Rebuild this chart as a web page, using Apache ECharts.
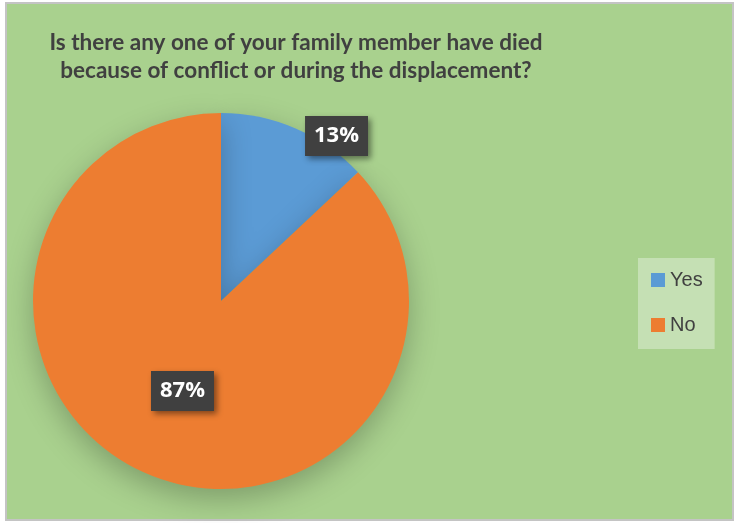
<!DOCTYPE html>
<html>
<head>
<meta charset="utf-8">
<script src="https://cdn.jsdelivr.net/npm/echarts@6/dist/echarts.min.js"></script>
<style>
html,body{margin:0;padding:0;background:#ffffff;}
#bg{position:absolute;left:5px;top:2px;width:725px;height:515px;background:#a9d18e;border:2px solid #c4c4c4;}
#chart{position:absolute;left:0;top:0;width:735px;height:523px;}
</style>
</head>
<body>
<div id="bg"></div>
<div id="chart"></div>
<script>
const titleLines = ['Is there any one of your family member have died', 'because of conflict or during the displacement?'];
const categories = ['Yes', 'No'];
const values = [13, 87];
const colors = ['#5b9bd5', '#ed7d31'];

const chart = echarts.init(document.getElementById('chart'), null, {renderer: 'canvas'});
const labelBox = {
  color: '#ffffff',
  fontFamily: 'Open Sans, Liberation Sans, sans-serif',
  fontWeight: 'bold',
  fontSize: 22,
  lineHeight: 26,
  backgroundColor: '#404040',
  padding: [8, 9, 6, 9],
  shadowBlur: 6,
  shadowOffsetX: 3,
  shadowOffsetY: 3,
  shadowColor: 'rgba(0,0,0,0.45)',
  formatter: '{d}%'
};
chart.setOption({
  backgroundColor: 'transparent',
  animation: false,
  title: {
    text: titleLines.join('\n'),
    left: 291,
    top: 24,
    textAlign: 'center',
    textStyle: {
      color: '#404040',
      fontFamily: 'Lato, Open Sans, sans-serif',
      fontWeight: 'bold',
      fontSize: 22.5,
      lineHeight: 28
    }
  },
  legend: {
    orient: 'vertical',
    left: 638,
    top: 258,
    backgroundColor: '#c5e0b4',
    padding: [12, 12, 14, 13],
    itemWidth: 14,
    itemHeight: 14,
    itemGap: 25,
    icon: 'rect',
    data: categories,
    textStyle: {color: '#404040', fontSize: 20, lineHeight: 20, fontFamily: 'Liberation Sans, sans-serif'}
  },
  series: [{
    type: 'pie',
    center: [221, 301],
    radius: [0, 188],
    startAngle: 90,
    clockwise: true,
    silent: true,
    label: Object.assign({position: 'inside'}, labelBox),
    labelLine: {show: false},
    itemStyle: {
      shadowBlur: 30,
      shadowOffsetY: 10,
      shadowColor: 'rgba(0,0,0,0.25)'
    },
    labelLayout: function (p) {
      if (p.dataIndex === 0) return {dx: 77, dy: -76};
      return {dx: 0, dy: 1};
    },
    data: categories.map((c, i) => ({name: c, value: values[i], itemStyle: {color: colors[i]}}))
  }]
});
</script>
</body>
</html>
